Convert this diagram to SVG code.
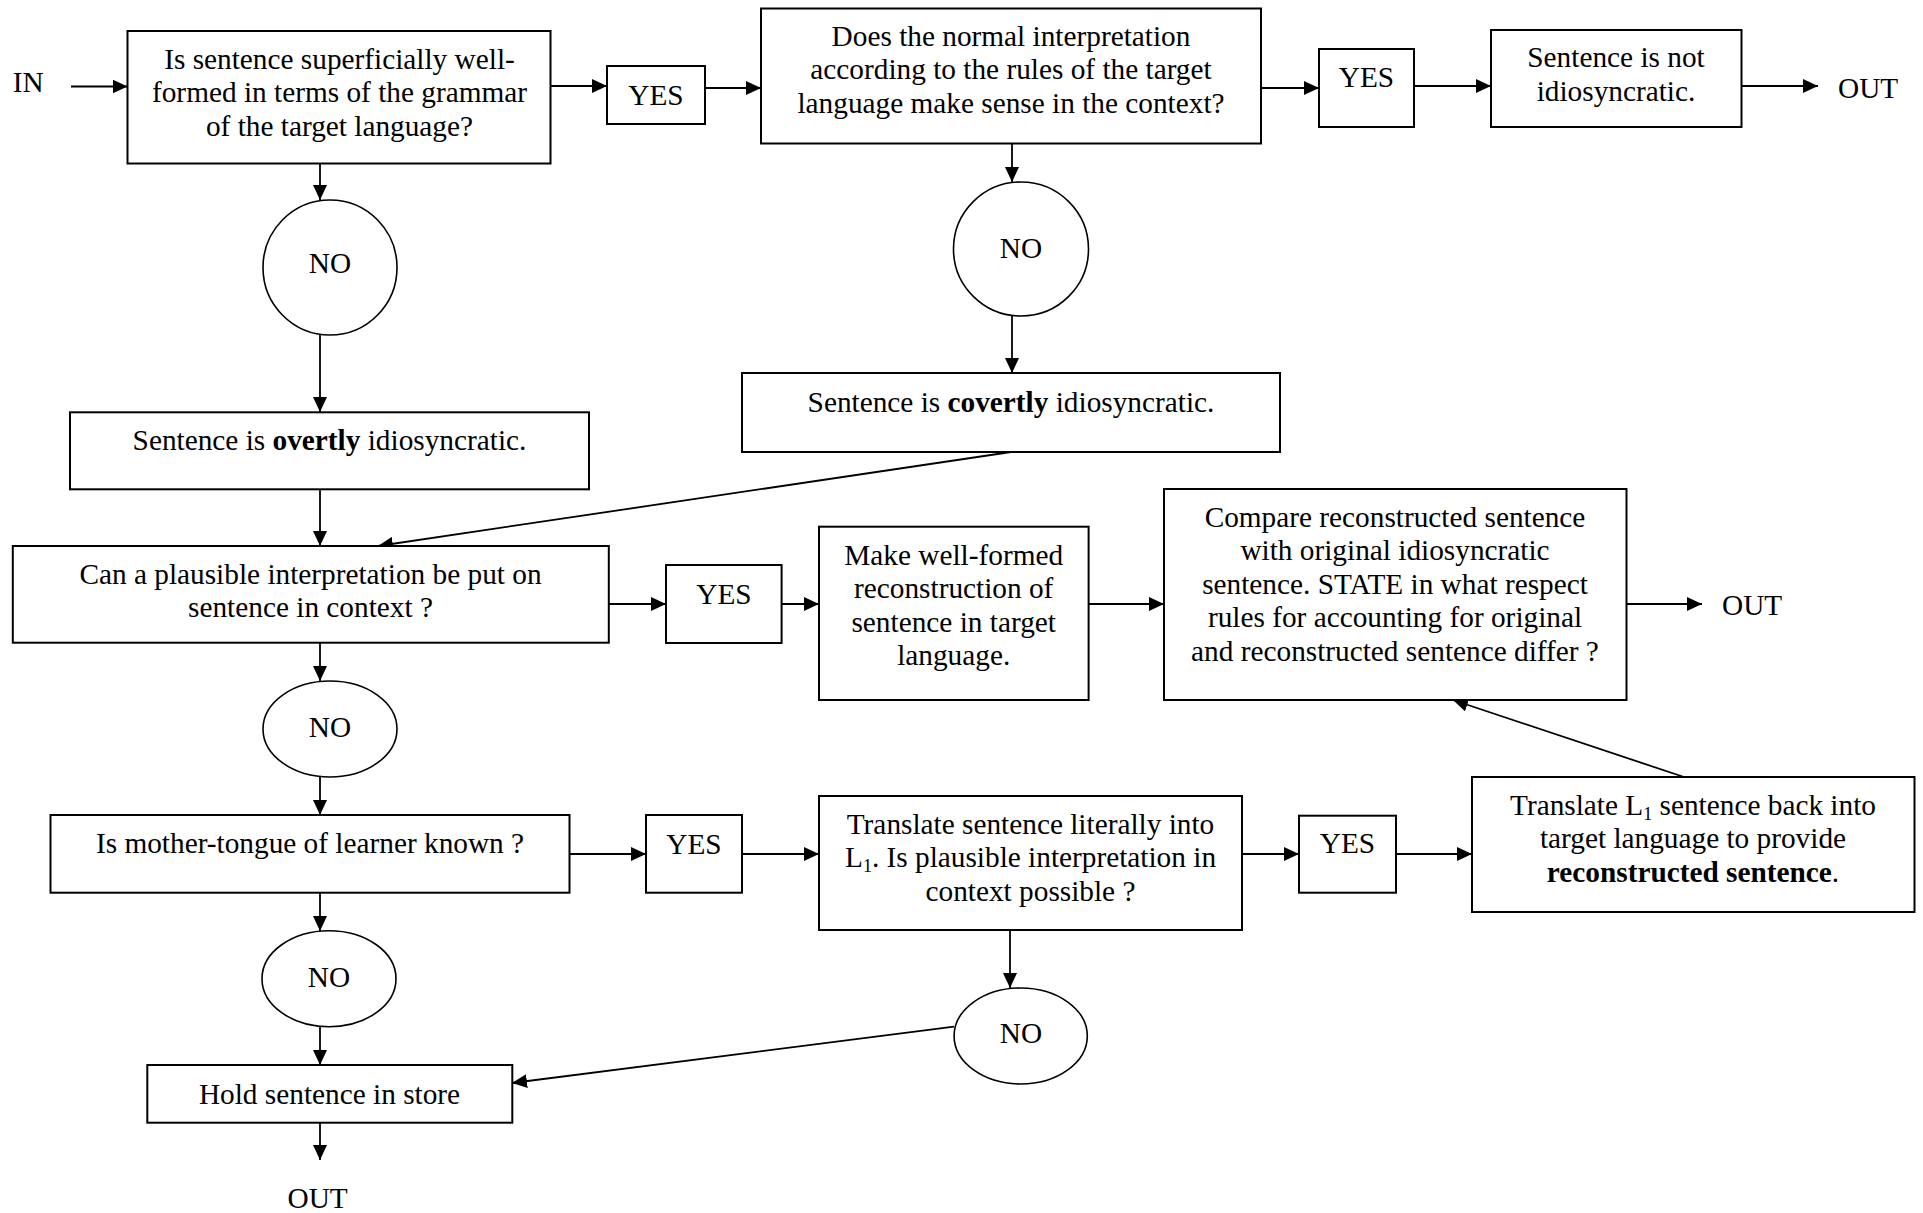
<svg xmlns="http://www.w3.org/2000/svg" width="1923" height="1213" viewBox="0 0 1923 1213">
<style>
  text { font-family: "Liberation Serif", "Times New Roman", serif; font-size: 29.3px; fill: #000; }
  .c { text-anchor: middle; }
  .b { font-weight: bold; }
  .box { fill: #fff; stroke: #000; stroke-width: 2; }
  .oval { fill: #fff; stroke: #000; stroke-width: 1.6; }
  .edge { fill: none; stroke: #000; stroke-width: 1.8; marker-end: url(#ah); }
  .sub { font-size: 18px; }
</style>
<defs>
  <marker id="ah" markerUnits="userSpaceOnUse" markerWidth="16" markerHeight="14" refX="15" refY="7" orient="auto">
    <path d="M0,0 L15,7 L0,14 z" fill="#000"/>
  </marker>
</defs>
<rect width="1923" height="1213" fill="#fff"/>

<g id="connectors">
  <line class="edge" x1="71" y1="86.5" x2="127.5" y2="86.5"/>
  <line class="edge" x1="551" y1="86" x2="607" y2="86"/>
  <line class="edge" x1="705" y1="88" x2="761" y2="88"/>
  <line class="edge" x1="1261" y1="88" x2="1319" y2="88"/>
  <line class="edge" x1="1414" y1="86" x2="1491" y2="86"/>
  <line class="edge" x1="1741.5" y1="86" x2="1818" y2="86"/>
  <line class="edge" x1="320" y1="163" x2="320" y2="200"/>
  <line class="edge" x1="320" y1="335" x2="320" y2="412"/>
  <line class="edge" x1="1012" y1="143" x2="1012" y2="182"/>
  <line class="edge" x1="1012" y1="316" x2="1012" y2="373"/>
  <line class="edge" x1="1011" y1="452" x2="378" y2="546"/>
  <line class="edge" x1="320" y1="489" x2="320" y2="546"/>
  <line class="edge" x1="609" y1="604" x2="666" y2="604"/>
  <line class="edge" x1="781.5" y1="604" x2="819" y2="604"/>
  <line class="edge" x1="1089" y1="604" x2="1164" y2="604"/>
  <line class="edge" x1="1627" y1="604" x2="1702" y2="604"/>
  <line class="edge" x1="320" y1="643" x2="320" y2="681"/>
  <line class="edge" x1="320" y1="777" x2="320" y2="815"/>
  <line class="edge" x1="570" y1="854" x2="646" y2="854"/>
  <line class="edge" x1="742" y1="854" x2="819" y2="854"/>
  <line class="edge" x1="1242" y1="854" x2="1299" y2="854"/>
  <line class="edge" x1="1396" y1="854" x2="1472" y2="854"/>
  <line class="edge" x1="1684" y1="777" x2="1453" y2="700"/>
  <line class="edge" x1="320" y1="893" x2="320" y2="931"/>
  <line class="edge" x1="320" y1="1027" x2="320" y2="1065"/>
  <line class="edge" x1="320" y1="1123" x2="320" y2="1160"/>
  <line class="edge" x1="1010" y1="930" x2="1010" y2="988"/>
  <line class="edge" x1="954" y1="1026.7" x2="512" y2="1083"/>
</g>

<g id="in-label"><text x="12.8" y="92">IN</text></g>

<g id="q-wellformed">
  <rect class="box" x="127.5" y="31" width="423" height="132.5"/>
  <text class="c" x="339.5" y="68.5">Is sentence superficially well-</text>
  <text class="c" x="339.5" y="102">formed in terms of the grammar</text>
  <text class="c" x="339.5" y="135.5">of the target language?</text>
</g>

<g id="yes1">
  <rect class="box" x="607" y="66" width="98" height="58"/>
  <text class="c" x="656" y="104.5">YES</text>
</g>

<g id="q-normal">
  <rect class="box" x="761" y="8.5" width="500" height="135"/>
  <text class="c" x="1011" y="45.5">Does the normal interpretation</text>
  <text class="c" x="1011" y="79">according to the rules of the target</text>
  <text class="c" x="1011" y="112.5">language make sense in the context?</text>
</g>

<g id="yes2">
  <rect class="box" x="1319" y="49" width="95" height="78"/>
  <text class="c" x="1366.5" y="87">YES</text>
</g>

<g id="not-idio">
  <rect class="box" x="1491" y="30" width="250.5" height="97"/>
  <text class="c" x="1616" y="67">Sentence is not</text>
  <text class="c" x="1616" y="100.5">idiosyncratic.</text>
</g>

<g id="out1"><text x="1838" y="98">OUT</text></g>

<g id="no1">
  <ellipse class="oval" cx="330" cy="267.5" rx="67" ry="67.5"/>
  <text class="c" x="330" y="273">NO</text>
</g>

<g id="no2">
  <ellipse class="oval" cx="1021" cy="249" rx="67.5" ry="67"/>
  <text class="c" x="1021" y="258">NO</text>
</g>

<g id="overtly">
  <rect class="box" x="70" y="412.3" width="519" height="77"/>
  <text class="c" x="329.5" y="450">Sentence is <tspan class="b">overtly</tspan> idiosyncratic.</text>
</g>

<g id="covertly">
  <rect class="box" x="742" y="373" width="538" height="79"/>
  <text class="c" x="1011" y="412">Sentence is <tspan class="b">covertly</tspan> idiosyncratic.</text>
</g>

<g id="q-plausible">
  <rect class="box" x="12.8" y="546" width="596" height="96.7"/>
  <text class="c" x="310.5" y="583.5">Can a plausible interpretation be put on</text>
  <text class="c" x="310.5" y="617">sentence in context ?</text>
</g>

<g id="yes3">
  <rect class="box" x="666" y="565" width="115.6" height="78"/>
  <text class="c" x="724" y="604">YES</text>
</g>

<g id="make-wellformed">
  <rect class="box" x="819" y="526.7" width="269.6" height="173.3"/>
  <text class="c" x="953.7" y="564.5">Make well-formed</text>
  <text class="c" x="953.7" y="598">reconstruction of</text>
  <text class="c" x="953.7" y="631.5">sentence in target</text>
  <text class="c" x="953.7" y="665">language.</text>
</g>

<g id="compare">
  <rect class="box" x="1164" y="489" width="462.5" height="211"/>
  <text class="c" x="1395" y="526.5">Compare reconstructed sentence</text>
  <text class="c" x="1395" y="560">with original idiosyncratic</text>
  <text class="c" x="1395" y="593.5">sentence. STATE in what respect</text>
  <text class="c" x="1395" y="627">rules for accounting for original</text>
  <text class="c" x="1395" y="660.5">and reconstructed sentence differ ?</text>
</g>

<g id="out2"><text x="1722" y="615">OUT</text></g>

<g id="no3">
  <ellipse class="oval" cx="330" cy="729" rx="67" ry="48"/>
  <text class="c" x="330" y="737">NO</text>
</g>

<g id="q-mother">
  <rect class="box" x="50.5" y="815" width="519" height="77.7"/>
  <text class="c" x="310" y="852.5">Is mother-tongue of learner known ?</text>
</g>

<g id="yes5">
  <rect class="box" x="646" y="815" width="96" height="77.7"/>
  <text class="c" x="694" y="854">YES</text>
</g>

<g id="translate-literal">
  <rect class="box" x="819" y="796" width="423" height="134"/>
  <text class="c" x="1030.5" y="833.5">Translate sentence literally into</text>
  <text class="c" x="1030.5" y="867">L<tspan class="sub" dy="5">1</tspan><tspan dy="-5">. Is plausible interpretation in</tspan></text>
  <text class="c" x="1030.5" y="900.5">context possible ?</text>
</g>

<g id="yes4">
  <rect class="box" x="1299" y="815.7" width="97" height="77"/>
  <text class="c" x="1347.5" y="853">YES</text>
</g>

<g id="translate-back">
  <rect class="box" x="1472" y="777" width="442.5" height="135"/>
  <text class="c" x="1693" y="814.5">Translate L<tspan class="sub" dy="5">1</tspan><tspan dy="-5"> sentence back into</tspan></text>
  <text class="c" x="1693" y="848">target language to provide</text>
  <text class="c" x="1693" y="881.5"><tspan class="b">reconstructed sentence</tspan>.</text>
</g>

<g id="no4">
  <ellipse class="oval" cx="329" cy="978.7" rx="67" ry="48"/>
  <text class="c" x="329" y="986.7">NO</text>
</g>

<g id="no5">
  <ellipse class="oval" cx="1020.7" cy="1036" rx="66.6" ry="48"/>
  <text class="c" x="1021" y="1043">NO</text>
</g>

<g id="hold">
  <rect class="box" x="147.3" y="1065" width="365" height="57.7"/>
  <text class="c" x="329.5" y="1104">Hold sentence in store</text>
</g>

<g id="out3"><text x="287.5" y="1208">OUT</text></g>
</svg>
